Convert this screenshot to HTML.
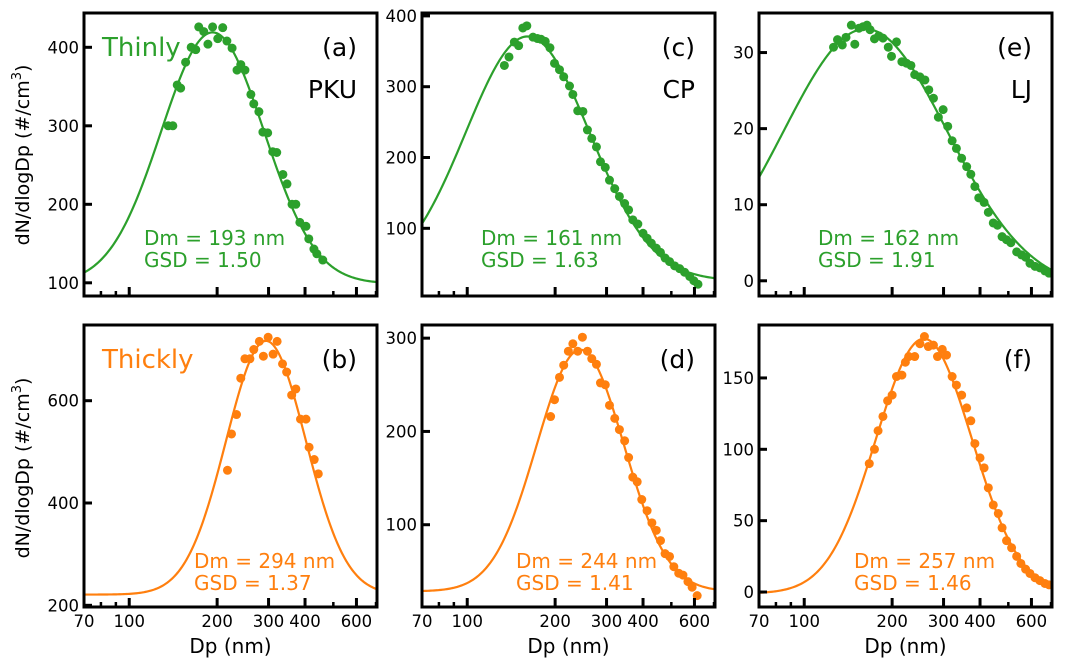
<!DOCTYPE html>
<html><head><meta charset="utf-8"><style>
html,body{margin:0;padding:0;background:#fff;}
svg{display:block;font-family:"DejaVu Sans","Liberation Sans",sans-serif;}
</style></head><body>
<svg id="chart" width="1065" height="666" viewBox="0 0 1065 666" xmlns="http://www.w3.org/2000/svg"></svg>
<script>
// ---- data (Dp in nm, dN/dlogDp in #/cm3) ----
const dpA = [136,141,146,150,156,163,169,173,180,186,193,201,209,216,225,234,241,249,261,267,278,287,298,310,320,336,347,361,372,384,403,412,429,439,460];
const valA = [300,300,352,348,381,400,397,426,420,404,426,411,425,408,399,371,378,371,340,328,318,292,291,267,266,238,226,200,200,177,172,156,143,137,129];
const dpC = [134,139,145,150,155,160,168,174,179,185,192,199,207,214,224,230,239,249,258,267,277,286,297,307,320,332,346,357,369,384,400,413,427,444,459,476,493,513,534,555,578,597,617];
const valC = [330,342,363,358,383,386,370,368,367,364,355,333,324,314,301,289,266,265,239,227,215,194,186,168,156,145,135,126,112,106,93,86,79,72,66,58,53,47,43,38,32,26,21];
const dpE = [126,130,135,139,145,149,154,159,164,168,174,180,186,194,199,207,216,224,232,239,249,259,267,277,288,299,310,321,332,346,360,372,384,396,413,427,444,459,476,493,510,534,555,573,593,617,641,667,689];
const valE = [30.7,31.7,31.0,32.0,33.6,31.1,33.2,33.4,33.6,33.0,31.8,32.2,31.9,30.7,29.5,31.4,28.8,28.6,28.3,27.1,26.8,26.4,25.1,24.0,21.5,22.5,20.3,18.4,17.4,16.1,15.0,14.0,12.4,10.9,10.3,9.0,7.6,7.3,5.8,5.4,5.0,3.8,3.4,3.1,2.3,1.9,1.7,1.3,1.0];
const dpB = [217,224,233,241,249,259,267,279,288,299,311,321,335,346,360,372,386,403,413,430,444];
const valB = [464,535,573,644,682,682,700,716,687,724,691,716,672,656,611,623,564,564,509,485,457];
const dpD = [193,199,207,214,222,230,239,248,258,267,277,286,297,307,320,332,346,357,369,382,396,413,429,444,459,476,493,510,530,548,570,589,613];
const valD = [216,234,258,271,286,294,286,301,286,278,272,252,250,228,214,202,190,172,151,146,127,115,102,94,83,69,66,55,48,46,39,33,24];
const dpF = [167,174,179,186,193,200,207,216,222,228,239,249,258,266,277,286,297,307,321,332,346,360,372,384,400,413,427,444,462,476,493,513,534,552,573,593,617,641,667,689];
const valF = [90,100,113,123,134,138,151,152,161,165,165,174,179,172,173,165,170,166,151,145,138,129,120,104,94,87,73,61,55,45,36,31,25,20,16,13,10,8,6,5];
// fit parameters: Dm, GSD, baseline, amplitude
const fitDm = [193,161,162,294,244,257];
const fitGSD = [1.50,1.63,1.91,1.37,1.41,1.46];
const fitBase = [99,26,-1.2,221,28.6,-1];
const fitAmp = [320,345,34.3,496,259,178.5];
const yTicksA = [100,200,300,400];
const yTicksC = [100,200,300,400];
const yTicksE = [0,10,20,30];
const yTicksB = [200,400,600];
const yTicksD = [100,200,300];
const yTicksF = [0,50,100,150];
const xMajor = [70,100,200,300,400,600];
const xMinor = [80,90,500,700];

const NS = "http://www.w3.org/2000/svg";
const svg = document.getElementById('chart');
function mk(tag, attrs, parent, text){
  const e = document.createElementNS(NS, tag);
  for (const k in attrs) e.setAttribute(k, attrs[k]);
  if (text !== undefined) e.textContent = text;
  (parent || svg).appendChild(e);
  return e;
}
const GREEN = '#2ca02c', ORANGE = '#ff7f0e';
const panels = [
  {id:'a', L:84, T:13, B:296, ymin:83.2, ymax:443.7, dp:dpA, v:valA, ticks:yTicksA, col:GREEN, k:0, site:'PKU', lab:'Thinly', ax:60, ay:51},
  {id:'c', L:422, T:13, B:296, ymin:4.4, ymax:404.1, dp:dpC, v:valC, ticks:yTicksC, col:GREEN, k:1, site:'CP', ax:59, ay:51},
  {id:'e', L:759, T:13, B:296, ymin:-2.0, ymax:35.2, dp:dpE, v:valE, ticks:yTicksE, col:GREEN, k:2, site:'LJ', ax:59, ay:51},
  {id:'b', L:84, T:325, B:607, ymin:196.7, ymax:748, dp:dpB, v:valB, ticks:yTicksB, col:ORANGE, k:3, lab:'Thickly', ax:110, ay:39},
  {id:'d', L:422, T:325, B:607, ymin:11.8, ymax:314.1, dp:dpD, v:valD, ticks:yTicksD, col:ORANGE, k:4, ax:94, ay:39},
  {id:'f', L:759, T:325, B:607, ymin:-10.5, ymax:187.1, dp:dpF, v:valF, ticks:yTicksF, col:ORANGE, k:5, ax:95, ay:39}
];
const W = 293, DEC = 292, XMIN = 70, XMAX = 70*Math.pow(10, W/DEC);

panels.forEach(p => {
  const g = mk('g', {});
  
  
  const xs = d => p.L + DEC*Math.log10(d/XMIN);
  const ys = v => p.B - (v - p.ymin)/(p.ymax - p.ymin)*(p.B - p.T);
  const cp = mk('clipPath', {id:'clip-'+p.id}, g);
  mk('rect', {x:p.L, y:p.T, width:W, height:p.B-p.T}, cp);
  let d = '';
  for (let i = 0; i <= 200; i++) {
    const dp = XMIN*Math.pow(XMAX/XMIN, i/200);
    const z = Math.log(dp/fitDm[p.k])/Math.log(fitGSD[p.k]);
    const v = fitBase[p.k] + fitAmp[p.k]*Math.exp(-z*z/2);
    d += (i ? 'L' : 'M') + xs(dp).toFixed(2) + ',' + ys(v).toFixed(2);
  }
  const fit = mk('path', {d:d, fill:'none', stroke:p.col, 'stroke-width':2.2, 'clip-path':'url(#clip-'+p.id+')'}, g);
  
  
  p.dp.forEach((dp, i) => {
    const c = mk('circle', {cx:xs(dp).toFixed(2), cy:ys(p.v[i]).toFixed(2), r:4.5, fill:p.col}, g);
    
    
  });
  p.ticks.forEach(t => {
    const y = ys(t);
    const tk = mk('line', {x1:p.L, x2:p.L+8, y1:y, y2:y, stroke:'#000', 'stroke-width':3}, g);
    
    
    const tl = mk('text', {x:p.L-5, y:y+6, 'text-anchor':'end', 'font-size':16.5}, g, String(t));
    
    
  });
  xMajor.forEach(t => {
    const x = xs(t);
    const tk = mk('line', {x1:x, x2:x, y1:p.B, y2:p.B-9, stroke:'#000', 'stroke-width':3}, g);
    
    
    if (p.T > 300) {
      const tl = mk('text', {x:x, y:p.B+20, 'text-anchor':'middle', 'font-size':16.5}, g, String(t));
      
      
    }
  });
  xMinor.forEach(t => {
    const x = xs(t);
    const tk = mk('line', {x1:x, x2:x, y1:p.B, y2:p.B-5, stroke:'#000', 'stroke-width':2.5}, g);
    
    
  });
  const fr = mk('rect', {x:p.L, y:p.T, width:W, height:p.B-p.T, fill:'none', stroke:'#000', 'stroke-width':3}, g);
  
  
  const pl = mk('text', {x:p.L+W-20, y:p.T+43, 'text-anchor':'end', 'font-size':25}, g, '(' + p.id + ')');
  
  
  if (p.site) {
    const s = mk('text', {x:p.L+W-20, y:p.T+85, 'text-anchor':'end', 'font-size':25}, g, p.site);
    
    
  }
  if (p.lab) {
    const s = mk('text', {x:p.L+18, y:p.T+43, 'font-size':26, fill:p.col}, g, p.lab);
    
    
  }
  const a1 = mk('text', {x:p.L+p.ax, y:p.B-p.ay, 'font-size':20, fill:p.col}, g, 'Dm = ' + fitDm[p.k] + ' nm');
  
  
  const a2 = mk('text', {x:p.L+p.ax, y:p.B-p.ay+22, 'font-size':20, fill:p.col}, g, 'GSD = ' + fitGSD[p.k].toFixed(2));
  
  
  if (p.T > 300) {
    const xl = mk('text', {x:p.L+W/2, y:653, 'text-anchor':'middle', 'font-size':20}, g, 'Dp (nm)');
    
    
  }
});
[155, 468].forEach(cy => {
  const t = mk('text', {x:0, y:0, 'text-anchor':'middle', 'font-size':19, transform:'translate(29,'+cy+') rotate(-90)'});
  
  
  mk('tspan', {}, t, 'dN/dlogDp (#/cm');
  mk('tspan', {'font-size':13, dy:-8}, t, '3');
  mk('tspan', {dy:8}, t, ')');
});
</script>
</body></html>
